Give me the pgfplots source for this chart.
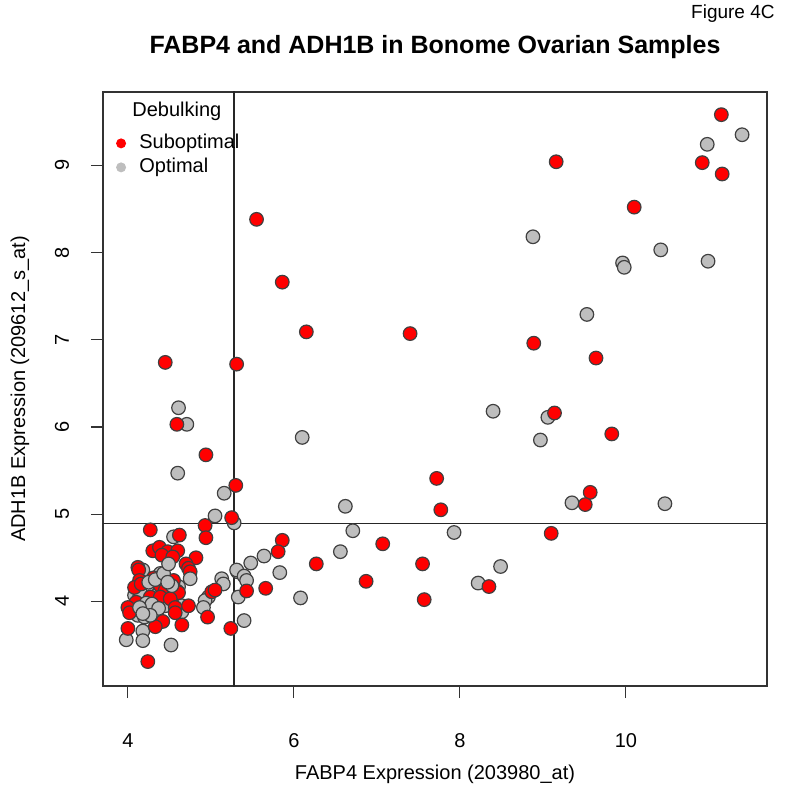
\documentclass[border=0pt]{standalone}
\usepackage{fontspec}
\setmainfont{Liberation Sans}
\usepackage{pgfplots}
\usepackage{pgfplotstable}
\pgfplotsset{compat=1.18}
\definecolor{rgray}{RGB}{190,190,190}
\definecolor{rred}{RGB}{255,0,0}

% Optimal samples (drawn below the suboptimal ones)
\pgfplotstableread{
x y
11.40 9.35
10.98 9.24
8.88 8.18
10.42 8.03
9.96 7.88
9.98 7.83
10.99 7.90
9.53 7.29
4.61 6.22
8.40 6.18
9.06 6.11
4.71 6.03
6.10 5.88
8.97 5.85
4.60 5.47
5.16 5.24
9.35 5.13
10.47 5.12
6.62 5.09
5.05 4.98
5.28 4.90
6.71 4.81
7.93 4.79
4.55 4.74
6.56 4.57
5.64 4.52
5.48 4.44
8.49 4.40
4.39 4.32
4.18 4.36
5.32 4.34
5.31 4.36
5.83 4.33
5.40 4.29
5.43 4.24
5.13 4.26
5.15 4.20
8.22 4.21
4.61 4.17
4.20 4.13
4.27 4.09
4.08 4.07
4.14 4.05
4.23 4.13
5.33 4.05
6.08 4.04
4.97 4.05
4.93 4.01
4.47 3.97
4.45 3.95
4.65 3.95
4.91 3.93
4.12 3.84
4.35 3.84
4.65 3.88
4.20 3.82
5.40 3.78
4.18 3.66
3.98 3.56
4.18 3.55
4.52 3.50
4.15 4.10
4.36 4.08
}\optimalA

% Optimal samples (drawn above the suboptimal ones)
\pgfplotstableread{
x y
4.22 3.98
4.29 3.97
4.37 3.92
4.14 3.93
4.27 3.84
4.18 3.86
4.25 4.22
4.33 4.25
4.43 4.32
4.49 4.43
4.75 4.26
4.53 4.18
4.48 4.22
}\optimalB

\pgfplotstableread{
x y
11.15 9.58
10.92 9.03
11.16 8.90
9.16 9.04
10.10 8.52
5.55 8.38
5.86 7.66
6.15 7.09
7.40 7.07
8.89 6.96
9.64 6.79
4.45 6.74
5.31 6.72
9.14 6.16
4.59 6.03
9.83 5.92
4.94 5.68
7.72 5.41
5.30 5.33
9.57 5.25
9.51 5.11
7.77 5.05
5.25 4.96
4.93 4.87
4.27 4.82
4.62 4.76
9.10 4.78
5.86 4.70
4.94 4.73
7.07 4.66
5.81 4.57
4.30 4.58
4.38 4.62
4.48 4.57
4.60 4.58
4.41 4.53
4.54 4.51
4.82 4.50
6.27 4.43
7.55 4.43
4.70 4.43
4.73 4.38
4.75 4.34
4.12 4.39
4.13 4.36
4.31 4.27
4.41 4.28
4.55 4.24
4.14 4.24
6.87 4.23
8.35 4.17
5.66 4.15
5.43 4.12
4.08 4.16
4.16 4.20
4.39 4.18
4.45 4.13
4.59 4.12
4.61 4.10
5.01 4.11
5.05 4.13
7.57 4.02
4.27 4.05
4.39 4.05
4.51 4.03
4.10 3.99
4.00 3.93
4.02 3.87
4.57 3.93
4.73 3.95
4.57 3.87
4.96 3.82
4.42 3.77
4.33 3.71
4.65 3.73
4.00 3.69
5.24 3.69
4.24 3.31
}\suboptimal

\begin{document}
\begin{tikzpicture}
\path[use as bounding box] (-51.5bp,-53bp) rectangle (348.5bp,343bp);
\begin{axis}[
  at={(0,0)}, anchor=south west,
  scale only axis, width=332bp, height=297bp,
  xmin=3.70, xmax=11.70, ymin=3.03, ymax=9.84,
  xtick={4,6,8,10}, ytick={4,5,6,7,8,9},
  tick align=outside, xtick pos=left, ytick pos=left,
  major tick length=6bp,
  tick style={black!80, line width=0.6bp},
  axis line style={black!80, line width=0.6bp},
  /pgf/number format/assume math mode=true,
  ticklabel style={font=\fontsize{10bp}{12bp}\selectfont},
  xticklabel style={anchor=center, yshift=-21.5bp},
  yticklabel style={xshift=-14.5bp, rotate=90, anchor=center},
  xlabel={FABP4 Expression (203980\_at)},
  ylabel={ADH1B Expression (209612\_s\_at)},
  label style={font=\fontsize{10bp}{12bp}\selectfont},
  xlabel style={at={(axis description cs:0.5,0)}, anchor=base, yshift=-46.5bp},
  ylabel style={at={(axis description cs:-0.125,0.5)}, anchor=center},
  title={\bfseries FABP4 and ADH1B in Bonome Ovarian Samples},
  title style={at={(axis description cs:0.5,1)}, anchor=base, yshift=13.5bp, font=\fontsize{12.5bp}{15bp}\selectfont},
  clip=true,
  legend cell align=left,
  legend image code/.code={\fill[#1] (0bp,0bp) circle (2.5bp);},
  legend style={at={(axis description cs:0.0191,0.9310)}, anchor=north west, draw=none, fill=none, inner sep=0bp,
    font=\fontsize{10bp}{12bp}\selectfont, column sep=6.65bp, row sep=2bp,
    nodes={inner sep=0bp, text height=7.5bp, text depth=2.5bp}},
]
\addplot[black!85, line width=0.7bp, forget plot] coordinates {(5.277,2.9) (5.277,10)};
\addplot[black!85, line width=0.7bp, forget plot] coordinates {(3.6,4.894) (11.8,4.894)};
\addplot[only marks, mark=*, mark size=3.4bp, mark options={draw=black!75, fill=rgray, line width=0.6bp}, forget plot] table {\optimalA};
\addplot[only marks, mark=*, mark size=3.4bp, mark options={draw=black!75, fill=rred, line width=0.6bp}, forget plot] table {\suboptimal};
\addplot[only marks, mark=*, mark size=3.4bp, mark options={draw=black!75, fill=rgray, line width=0.6bp}, forget plot] table {\optimalB};
\addlegendimage{fill=rred, draw=none}
\addlegendentry{Suboptimal}
\addlegendimage{fill=rgray, draw=none}
\addlegendentry{Optimal}
\node[anchor=west, inner sep=0bp, font=\fontsize{10bp}{12bp}\selectfont] at (axis description cs:0.0437,0.968) {Debulking};
\end{axis}
\node[anchor=north east, inner sep=0bp, font=\fontsize{9.5bp}{11bp}\selectfont] at (336bp,341bp) {Figure 4C};
\end{tikzpicture}
\end{document}
